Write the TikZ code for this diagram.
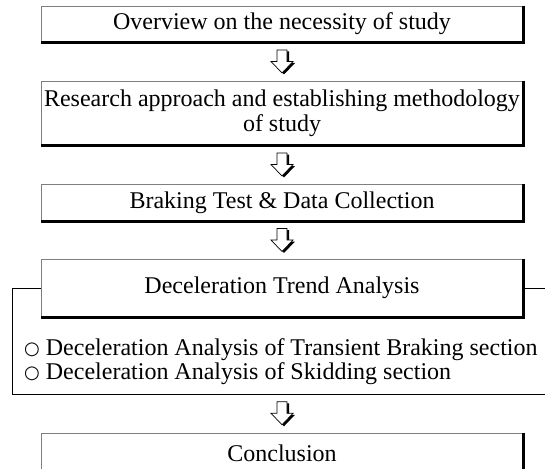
\documentclass[tikz,border=0pt]{standalone}
\usepackage{fontspec}
\setmainfont{Liberation Serif}
\newfontfamily\symfont{DejaVu Sans}
\usetikzlibrary{calc}
\definecolor{edgegray}{HTML}{7F7F7F}
\tikzset{
  box/.style={draw=edgegray,line width=0.9pt,fill=white,minimum width=482pt,align=center,inner sep=2pt,font=\fontsize{24}{25}\selectfont},
  shade/.style={line width=3pt,black},
  frame/.style={black,line width=0.9pt},
  item/.style={anchor=west,inner sep=0pt,font=\fontsize{24}{25}\selectfont},
  downarr/.pic={
    \fill[black] (-3,-10) -- (7,-10) -- (7,1.5) -- (13,1.5) -- (2,13) -- (-9,1.5) -- (-3,1.5) -- cycle;
    \filldraw[fill=white,draw=black,line width=0.7pt] (-5,-11.5) -- (5,-11.5) -- (5,0) -- (11,0) -- (0,11.5) -- (-11,0) -- (-5,0) -- cycle;
  }
}
\newcommand{\bul}{\raisebox{1.5pt}{\symfont\fontsize{18}{18}\selectfont ○}}
\begin{document}
\begin{tikzpicture}[x=1pt,y=-1pt]
\clip (0,0) rectangle (545,468);
\node[box,minimum height=36pt] (b1) at (282,24) {Overview on the necessity of study};
\node[box,minimum height=64pt] (b2) at (282,113) {Research approach and establishing methodology\\of study};
\node[box,minimum height=37pt] (b3) at (282,202.5) {Braking Test \& Data Collection};
\node[box,minimum height=58pt] (b4) at (282,288) {Deceleration Trend Analysis};
\node[box,minimum height=40pt] (b5) at (282,453) {Conclusion};
\foreach \b in {b1,b2,b3,b4,b5}
  \draw[shade] (\b.north east) -- (\b.south east) -- (\b.south west);
\coordinate (fsw) at (12,394);
\coordinate (fse) at (560,394);
\draw[frame] (b4.west) -| (fsw) -- (fse) |- (b4.east);
\node[item] (i1) at (24,350) {\bul\ Deceleration Analysis of Transient Braking section};
\node[item] (i2) at (24,374) {\bul\ Deceleration Analysis of Skidding section};
\foreach \u/\l in {b1/b2,b2/b3,b3/b4}
  \pic at ($(\u.south)!0.5!(\l.north)$) {downarr};
\pic at ($(b5.north)!0.5!(b5.north |- fsw)$) {downarr};
\end{tikzpicture}
\end{document}
